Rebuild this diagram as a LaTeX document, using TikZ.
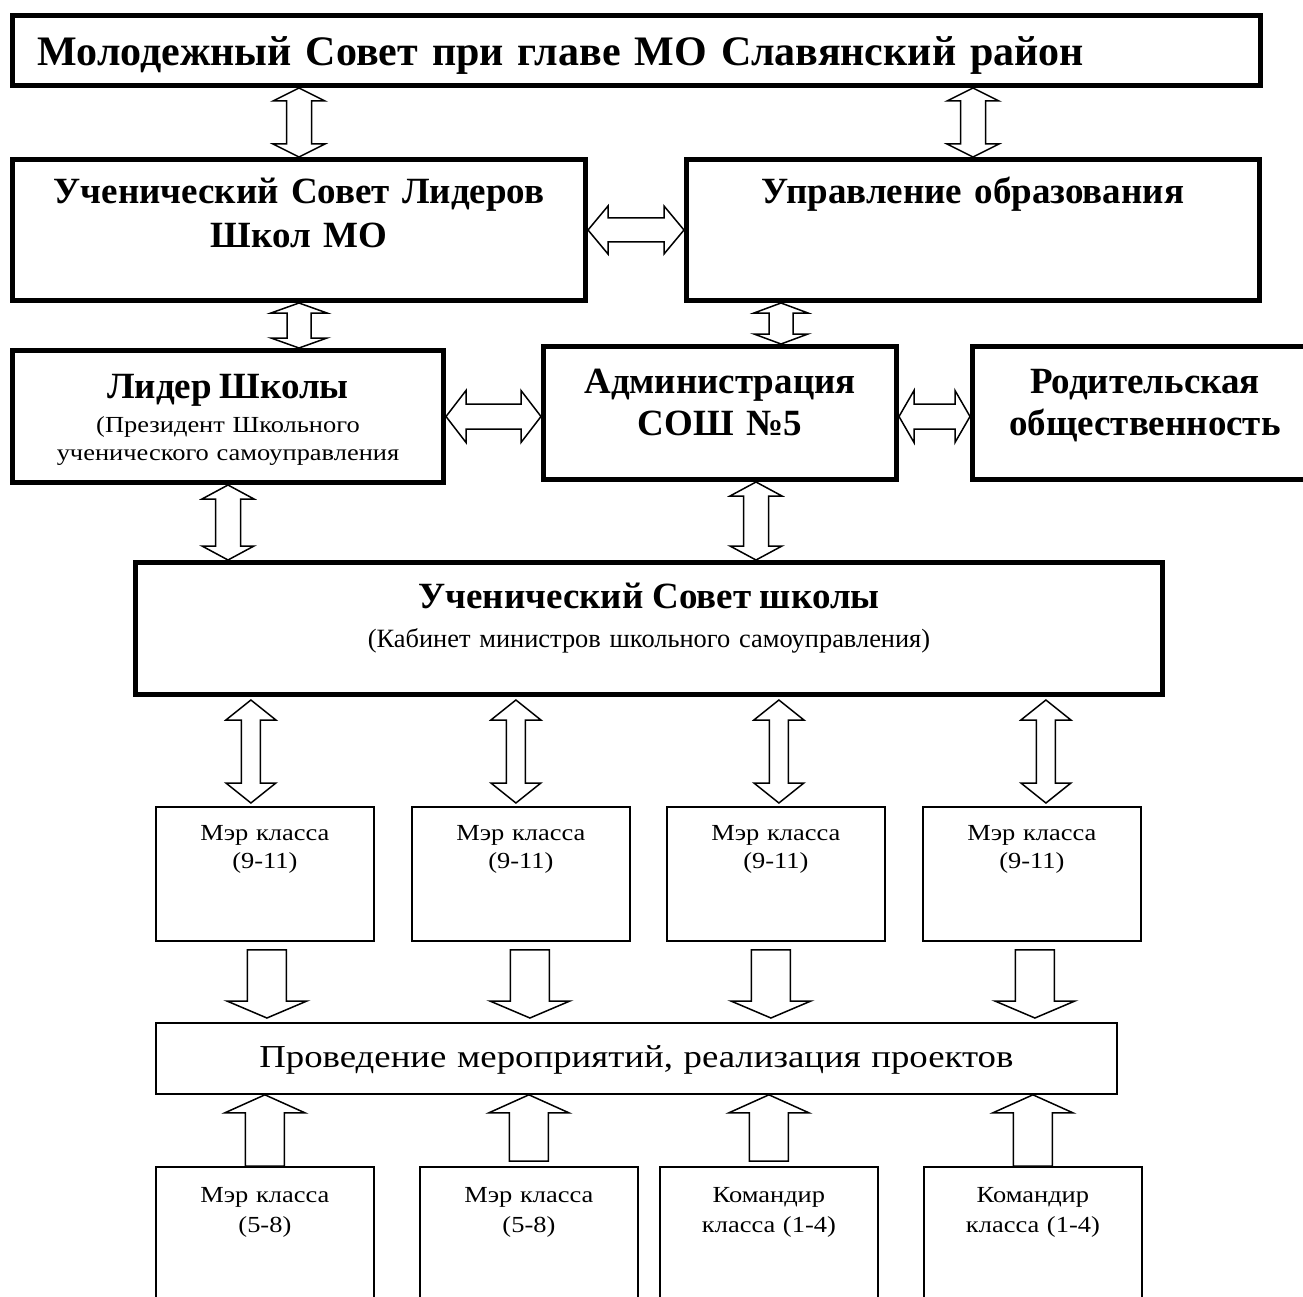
\documentclass[tikz,border=0pt]{standalone}
\usepackage{fontspec}
\setmainfont{Liberation Serif}
\newfontfamily\wideserif{Liberation Serif}[FakeStretch=1.15]
\usepackage{tikz}
\usetikzlibrary{calc}
\usetikzlibrary{positioning}

\tikzstyle{thickbox} = [rectangle, draw=black, line width=5pt, inner sep=0pt, anchor=north west, align=center, font=\bfseries]
\tikzstyle{thinbox} = [rectangle, draw=black, line width=1.8pt, inner sep=0pt, anchor=north west, align=center]
\tikzstyle{link} = [draw=black, line width=1.5pt, fill=white, miter limit=20]
\tikzset{
  both/.style n args={3}{link, to path={
      (\tikztostart)
      -- ($(\tikztostart)!#1!(\tikztotarget)!#2!90:(\tikztotarget)$)
      -- ($(\tikztostart)!#1!(\tikztotarget)!#3!90:(\tikztotarget)$)
      -- ($(\tikztotarget)!#1!(\tikztostart)!#3!-90:(\tikztostart)$)
      -- ($(\tikztotarget)!#1!(\tikztostart)!#2!-90:(\tikztostart)$)
      -- (\tikztotarget)
      -- ($(\tikztotarget)!#1!(\tikztostart)!#2!90:(\tikztostart)$)
      -- ($(\tikztotarget)!#1!(\tikztostart)!#3!90:(\tikztostart)$)
      -- ($(\tikztostart)!#1!(\tikztotarget)!#3!-90:(\tikztotarget)$)
      -- ($(\tikztostart)!#1!(\tikztotarget)!#2!-90:(\tikztotarget)$)
      -- cycle}},
  oneway/.style n args={3}{link, to path={
      ($(\tikztostart)!#3!90:(\tikztotarget)$)
      -- ($(\tikztotarget)!#1!(\tikztostart)!#3!-90:(\tikztostart)$)
      -- ($(\tikztotarget)!#1!(\tikztostart)!#2!-90:(\tikztostart)$)
      -- (\tikztotarget)
      -- ($(\tikztotarget)!#1!(\tikztostart)!#2!90:(\tikztostart)$)
      -- ($(\tikztotarget)!#1!(\tikztostart)!#3!90:(\tikztostart)$)
      -- ($(\tikztostart)!#3!-90:(\tikztotarget)$)
      -- cycle}}
}

\begin{document}
\begin{tikzpicture}[x=1pt, y=-1pt]
  \useasboundingbox (0,0) rectangle (1303,1297);
  \clip (0,0) rectangle (1303,1297);

  % upper levels
  \node (council) [thickbox, align=left, inner xsep=25pt, text width=1198pt, text height=50pt, text depth=20pt, font=\bfseries\fontsize{42}{48}\selectfont] at (10,13) {Молодежный Совет при главе МО Славянский район};
  \node (leaders) [thickbox, text width=573pt, text height=44.5pt, text depth=96.5pt, font=\bfseries\fontsize{37}{44}\selectfont] at (10,157) {Ученический Совет Лидеров\\Школ МО};
  \node (educ) [thickbox, text width=573pt, text height=44.5pt, text depth=96.5pt, font=\bfseries\fontsize{37}{44}\selectfont] at (684,157) {Управление образования};
  \node (leader) [thickbox, text width=431pt, text height=47.5pt, text depth=84.5pt, font=\wideserif\fontsize{23}{28}\selectfont] at (10,348) {{\rmfamily\bfseries\fontsize{37}{37}\selectfont Лидер Школы}\\[6pt](Президент Школьного\\ученического самоуправления};
  \node (admin) [thickbox, text width=353pt, text height=46.5pt, text depth=86.5pt, font=\bfseries\fontsize{37}{42}\selectfont] at (541,344) {Администрация\\СОШ №5};
  \node (parents) [thickbox, text width=345pt, text height=46.5pt, text depth=86.5pt, font=\bfseries\fontsize{37}{42}\selectfont] at (970,344) {Родительская\\общественность};
  \node (council2) [thickbox, text width=1027pt, text height=45.5pt, text depth=86.5pt, font=\fontsize{26.4}{39}\selectfont] at (133,560) {{\bfseries\fontsize{37}{37}\selectfont Ученический Совет школы}\\(Кабинет министров школьного самоуправления)};

  % classes
  \node (mayorA) [thinbox, text width=218pt, text height=34pt, text depth=100pt, font=\wideserif\fontsize{23}{28}\selectfont] at (155,806) {Мэр класса\\(9-11)};
  \node (mayorB) [thinbox, text width=218pt, text height=34pt, text depth=100pt, font=\wideserif\fontsize{23}{28}\selectfont] at (411,806) {Мэр класса\\(9-11)};
  \node (mayorC) [thinbox, text width=218pt, text height=34pt, text depth=100pt, font=\wideserif\fontsize{23}{28}\selectfont] at (666,806) {Мэр класса\\(9-11)};
  \node (mayorD) [thinbox, text width=218pt, text height=34pt, text depth=100pt, font=\wideserif\fontsize{23}{28}\selectfont] at (922,806) {Мэр класса\\(9-11)};
  \node (events) [thinbox, text width=961pt, text height=45pt, text depth=26pt, font=\wideserif\fontsize{32}{36}\selectfont] at (155,1022) {Проведение мероприятий, реализация проектов};
  \node (juniorA) [thinbox, text width=218pt, text height=36pt, text depth=164pt, font=\wideserif\fontsize{23}{30}\selectfont] at (155,1166) {Мэр класса\\(5-8)};
  \node (juniorB) [thinbox, text width=218pt, text height=36pt, text depth=164pt, font=\wideserif\fontsize{23}{30}\selectfont] at (419,1166) {Мэр класса\\(5-8)};
  \node (juniorC) [thinbox, text width=218pt, text height=36pt, text depth=164pt, font=\wideserif\fontsize{23}{30}\selectfont] at (659,1166) {Командир\\класса (1-4)};
  \node (juniorD) [thinbox, text width=218pt, text height=36pt, text depth=164pt, font=\wideserif\fontsize{23}{30}\selectfont] at (923,1166) {Командир\\класса (1-4)};

  % links between the upper boxes
  \draw [both={13pt}{26pt}{12.5pt}] (leaders.north |- council.south) to (leaders.north);
  \draw [both={13pt}{26pt}{12.5pt}] (educ.north |- council.south) to (educ.north);
  \draw [both={20pt}{24pt}{12pt}] (leaders.east) to (educ.west);
  \draw [both={10pt}{28pt}{12pt}] (leaders.south) to (leaders.south |- leader.north);
  \draw [both={10pt}{27pt}{12pt}] ($(admin.north |- educ.south)+(61,0)$) to ($(admin.north)+(61,0)$);
  \draw [both={20pt}{26pt}{12.5pt}] (leader.east) to (leader.east -| admin.west);
  \draw [both={15pt}{26pt}{12.5pt}] (admin.east |- leader.east) to (parents.west |- leader.east);
  \draw [both={14pt}{26pt}{12.5pt}] (leader.south) to (leader.south |- council2.north);
  \draw [both={14pt}{26pt}{12.5pt}] ($(admin.south)+(36,0)$) to ($(admin.south |- council2.north)+(36,0)$);

  % links to the classes
  \draw [both={20pt}{25pt}{9.5pt}] ($(mayorA.north |- council2.south)+(-14,3)$) to ($(mayorA.north)+(-14,-3)$);
  \draw [both={20pt}{25pt}{9.5pt}] ($(mayorB.north |- council2.south)+(-5,3)$) to ($(mayorB.north)+(-5,-3)$);
  \draw [both={20pt}{25pt}{9.5pt}] ($(mayorC.north |- council2.south)+(3,3)$) to ($(mayorC.north)+(3,-3)$);
  \draw [both={20pt}{25pt}{9.5pt}] ($(mayorD.north |- council2.south)+(14,3)$) to ($(mayorD.north)+(14,-3)$);

  \draw [oneway={17pt}{40pt}{19.5pt}] ($(mayorA.south)+(2,8)$) to ($(mayorA.south |- events.north)+(2,-4)$);
  \draw [oneway={17pt}{40pt}{19.5pt}] ($(mayorB.south)+(9,8)$) to ($(mayorB.south |- events.north)+(9,-4)$);
  \draw [oneway={17pt}{40pt}{19.5pt}] ($(mayorC.south)+(-5,8)$) to ($(mayorC.south |- events.north)+(-5,-4)$);
  \draw [oneway={17pt}{40pt}{19.5pt}] ($(mayorD.south)+(3,8)$) to ($(mayorD.south |- events.north)+(3,-4)$);

  \draw [oneway={18pt}{40pt}{19.5pt}] (juniorA.north) to (juniorA.north |- events.south);
  \draw [oneway={18pt}{40pt}{19.5pt}] ($(juniorB.north)+(0,-5)$) to (juniorB.north |- events.south);
  \draw [oneway={18pt}{40pt}{19.5pt}] ($(juniorC.north)+(0,-5)$) to (juniorC.north |- events.south);
  \draw [oneway={18pt}{40pt}{19.5pt}] (juniorD.north) to (juniorD.north |- events.south);
\end{tikzpicture}
\end{document}
